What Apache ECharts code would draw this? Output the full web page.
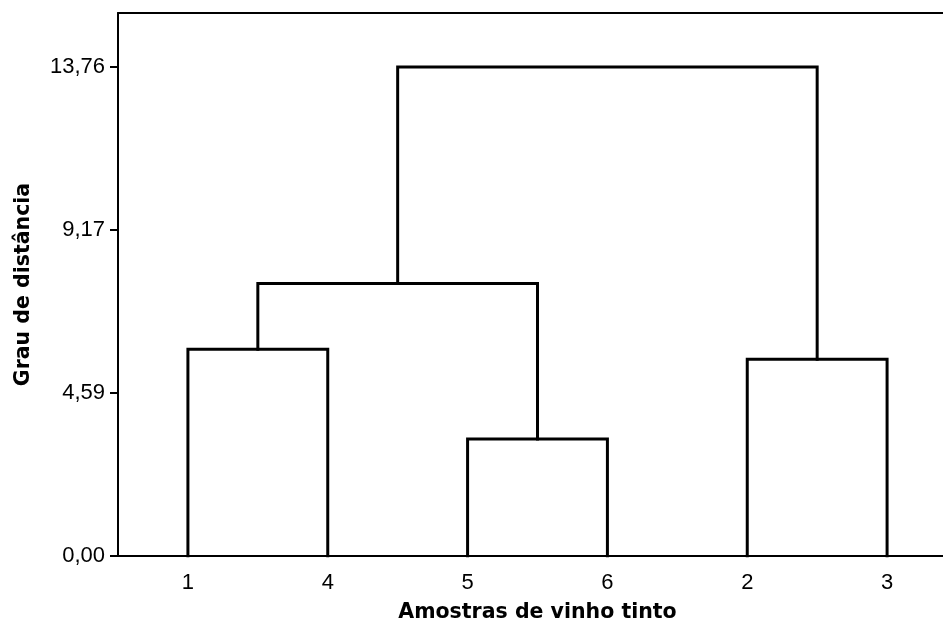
<!DOCTYPE html>
<html>
<head>
<meta charset="utf-8">
<script src="https://cdn.jsdelivr.net/npm/echarts@6/dist/echarts.min.js"></script>
<style>
  html, body { margin: 0; padding: 0; background: #fff; }
  #chart { width: 943px; height: 620px; }
</style>
</head>
<body>
<div id="chart"></div>
<script>
// leaf order along the x axis
const leaves = ['1', '4', '5', '6', '2', '3']
// linkage: cluster n+i joins mergeA[i] and mergeB[i] at mergeHeights[i]
const mergeA = [0, 2, 4, 6, 9]
const mergeB = [1, 3, 5, 7, 8]
const mergeHeights = [5.82, 3.29, 5.54, 7.67, 13.76]
const yTickStep = 13.76 / 3
const yMax = 15.28

const tickFont = 'Liberation Sans'
const nameFont = 'DejaVu Sans'

// x position and height of every node
const nodeX = leaves.map((_, i) => i)
const nodeH = leaves.map(() => 0)
const linkSeries = []
mergeA.forEach((a, i) => {
  const b = mergeB[i]
  const h = mergeHeights[i]
  nodeX.push((nodeX[a] + nodeX[b]) / 2)
  nodeH.push(h)
  linkSeries.push({
    type: 'line',
    xAxisIndex: 1,
    symbol: 'none',
    silent: true,
    lineStyle: { color: '#000', width: 3, cap: 'square', join: 'miter' },
    data: [[nodeX[a], nodeH[a]], [nodeX[a], h], [nodeX[b], h], [nodeX[b], nodeH[b]]]
  })
})

const chart = echarts.init(document.getElementById('chart'))
chart.setOption({
  animation: false,
  backgroundColor: '#fff',
  // plot runs past the right edge of the picture
  grid: { left: 118, top: 13, bottom: 64, width: 839, containLabel: false, outerBoundsMode: 'none' },
  xAxis: [
    {
      type: 'category',
      data: leaves,
      position: 'bottom',
      boundaryGap: true,
      name: 'Amostras de vinho tinto',
      nameLocation: 'middle',
      nameGap: 46,
      nameTextStyle: { fontFamily: nameFont, fontSize: 20.5, fontWeight: 'bold', color: '#000' },
      axisLine: { lineStyle: { color: '#000', width: 2 } },
      axisTick: { alignWithLabel: true, length: 8, lineStyle: { color: '#000', width: 2 } },
      axisLabel: { fontFamily: tickFont, fontSize: 22, color: '#000', margin: 16 },
      splitLine: { show: false }
    },
    {
      type: 'value',
      position: 'top',
      min: -0.5,
      max: 5.5,
      axisLine: { show: true, onZero: false, lineStyle: { color: '#000', width: 2 } },
      axisTick: { show: false },
      axisLabel: { show: false },
      splitLine: { show: false }
    }
  ],
  yAxis: {
    type: 'value',
    min: 0,
    max: yMax,
    interval: yTickStep,
    name: 'Grau de distância',
    nameLocation: 'middle',
    nameGap: 84,
    nameTextStyle: { fontFamily: nameFont, fontSize: 20.5, fontWeight: 'bold', color: '#000' },
    axisLine: { show: true, onZero: false, lineStyle: { color: '#000', width: 2 } },
    axisTick: { show: true, length: 8, lineStyle: { color: '#000', width: 2 } },
    axisLabel: {
      fontFamily: tickFont,
      fontSize: 22,
      color: '#000',
      margin: 13,
      showMaxLabel: false,
      formatter: v => v.toFixed(2).replace('.', ',')
    },
    splitLine: { show: false }
  },
  series: linkSeries
})
</script>
</body>
</html>
